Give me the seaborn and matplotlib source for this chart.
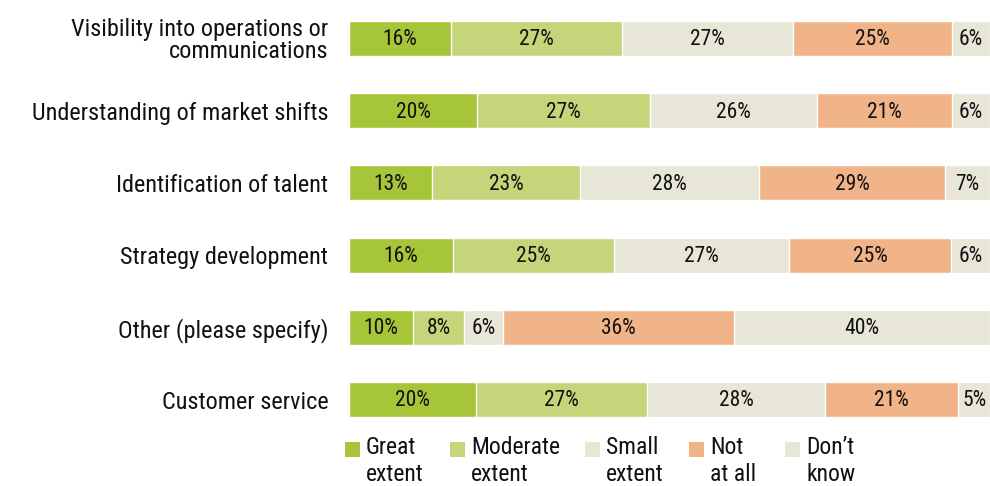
import numpy as np
import pandas as pd
import matplotlib.pyplot as plt
from matplotlib.patches import Rectangle
import seaborn as sns

# data
categories = ['Visibility into operations or\ncommunications',
              'Understanding of market shifts',
              'Identification of talent',
              'Strategy development',
              'Other (please specify)',
              'Customer service']
segments = ['Great\nextent', 'Moderate\nextent', 'Small\nextent', 'Not\nat all', "Don\u2019t\nknow"]
great = [16, 20, 13, 16, 10, 20]
moderate = [27, 27, 23, 25, 8, 27]
small = [27, 26, 28, 27, 6, 28]
not_at_all = [25, 21, 29, 25, 36, 21]
dont_know = [6, 6, 7, 6, 40, 5]
colors = ['#a6c539', '#c5d67a', '#e7e6d7', '#f0b488', '#e7e6d7']
legend_px = [345, 450, 585, 689, 785]  # left edge of each legend square, pixels

sns.set_theme(style='white')
plt.rcParams['font.family'] = ['Roboto Condensed', 'Liberation Sans Narrow', 'Roboto', 'DejaVu Sans']

df = pd.DataFrame({'cat': categories, 'g': great, 'm': moderate, 's': small,
                   'n': not_at_all, 'd': dont_know})
vals = df[['g', 'm', 's', 'n', 'd']].to_numpy(dtype=float)
# bars fill the full width, so scale each row to its own total
widths = vals / vals.sum(axis=1, keepdims=True) * 100
cum = np.cumsum(widths, axis=1)

W, H = 990, 486
fig = plt.figure(figsize=(W / 100, H / 100), dpi=100)
ax = fig.add_axes([0.3525, 0.1185, 0.6475, 0.8617])

# draw cumulative totals back to front so they look stacked
for i in range(4, -1, -1):
    sns.barplot(x=cum[:, i], y=df['cat'], color=colors[i], orient='h',
                width=0.485, saturation=1, ax=ax)

for r in range(len(categories)):
    for i in range(5):
        left = cum[r, i] - widths[r, i]
        ax.text(left + widths[r, i] / 2, r + 0.02, f'{int(vals[r, i])}%',
                ha='center', va='center', fontsize=15.5, color='#111111')

ax.set_xlim(0, 100)
ax.set_ylim(5.4, -0.4)
ax.set_xlabel('')
ax.set_ylabel('')
ax.set_xticks([])
ax.tick_params(axis='y', length=0, pad=15, labelsize=17.5)
for lab in ax.get_yticklabels():
    lab.set_color('#111111')
    lab.set_linespacing(0.95)
    lab.set_y(lab.get_position()[1])
for sp in ax.spines.values():
    sp.set_visible(False)

# legend: square next to two-line label, placed like the reference
for seg, col, px in zip(segments, colors, legend_px):
    fig.add_artist(Rectangle((px / W, 1 - 457 / H), 15 / W, 15 / H,
                             transform=fig.transFigure, color=col, lw=0))
    fig.text((px + 21) / W, 1 - 436 / H, seg, ha='left', va='top',
             fontsize=17, linespacing=1.2, color='#111111')

plt.savefig('out.png', dpi=100)
